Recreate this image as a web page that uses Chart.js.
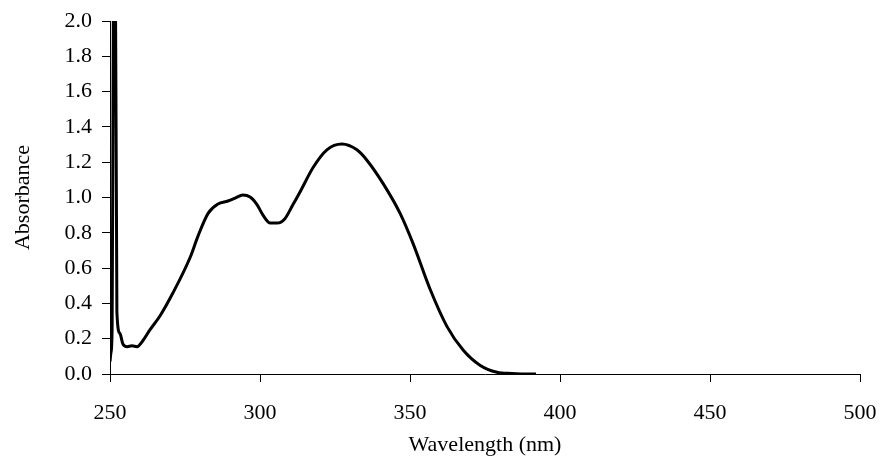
<!DOCTYPE html>
<html>
<head>
<meta charset="utf-8">
<script src="https://cdn.jsdelivr.net/npm/chart.js@4.4.0/dist/chart.umd.min.js"></script>
<style>
  html, body { margin: 0; padding: 0; background: #fff; }
  #wrap { width: 882px; height: 470px; }
</style>
</head>
<body>
<div id="wrap"><canvas id="spectrum"></canvas></div>
<script>
// absorbance spectrum
const wavelength = [250.0, 250.3, 250.7, 251.0, 251.3, 251.7, 252.3, 253.3, 254.3, 255.7,
    257.3, 259.0, 261.0, 263.3, 266.7, 271.0, 276.7, 279.3, 282.7, 286.0,
    289.3, 291.7, 294.3, 296.7, 299.0, 301.0, 303.3, 305.7, 308.3, 311.0,
    313.3, 317.7, 322.3, 327.3, 332.3, 335.7, 341.0, 346.7, 351.0, 356.7,
    362.3, 367.7, 373.3, 379.0, 384.0, 390.0, 392.0];
const absorbance = [0.07, 0.12, 0.25, 1.5, 2.6, 2.6, 0.35, 0.23, 0.17, 0.155,
    0.16, 0.155, 0.19, 0.25, 0.33, 0.46, 0.66, 0.78, 0.91, 0.963,
    0.98, 0.997, 1.014, 1.003, 0.96, 0.90, 0.856, 0.855, 0.88, 0.96,
    1.03, 1.17, 1.27, 1.303, 1.27, 1.21, 1.08, 0.91, 0.74, 0.48,
    0.27, 0.136, 0.05, 0.01, 0.003, 0.0, 0.0];
const xTicks = [250, 300, 350, 400, 450, 500];
const yTicks = [0, 0.2, 0.4, 0.6, 0.8, 1.0, 1.2, 1.4, 1.6, 1.8, 2.0];

const fontFam = "'Liberation Serif', 'Times New Roman', serif";
const points = wavelength.map((w, i) => ({ x: w, y: absorbance[i] }));

var ctx = document.getElementById('spectrum').getContext('2d');
var chart = new Chart(ctx, {
    type: 'line',
    data: {
        datasets: [{
            label: 'Absorbance',
            data: points,
            borderColor: '#000',
            borderWidth: 3,
            pointRadius: 0,
            cubicInterpolationMode: 'monotone',
            fill: false
        }]
    },
    options: {
        responsive: true,
        maintainAspectRatio: false,
        animation: false,
        layout: { padding: { left: 0, top: 21, right: 22, bottom: 0 } },
        plugins: { legend: { display: false }, tooltip: { enabled: false } },
        scales: {
            x: {
                type: 'linear',
                min: xTicks[0],
                max: xTicks[xTicks.length - 1],
                afterBuildTicks: (s) => { s.ticks = xTicks.map(v => ({ value: v })); },
                afterFit: (s) => { s.height = 96; s.paddingLeft = 0; s.paddingRight = 0; },
                grid: { drawOnChartArea: false, drawTicks: true, tickLength: 8, color: '#000' },
                border: { color: '#000', width: 1 },
                ticks: { color: '#000', padding: 18, maxRotation: 0, font: { family: fontFam, size: 22 } },
                title: {
                    display: true, text: 'Wavelength (nm)', color: '#000',
                    font: { family: fontFam, size: 22 }, padding: { top: 0, bottom: 12 }
                }
            },
            y: {
                min: yTicks[0],
                max: yTicks[yTicks.length - 1],
                afterBuildTicks: (s) => { s.ticks = yTicks.map(v => ({ value: v })); },
                afterFit: (s) => { s.width = 110; s.paddingTop = 0; s.paddingBottom = 0; },
                grid: { drawOnChartArea: false, drawTicks: true, tickLength: 8, color: '#000' },
                border: { color: '#000', width: 1 },
                ticks: {
                    color: '#000', padding: 10, font: { family: fontFam, size: 22 },
                    callback: (v) => Number(v).toFixed(1)
                },
                title: {
                    display: true, text: 'Absorbance', color: '#000',
                    font: { family: fontFam, size: 22 }, padding: { top: 10, bottom: 0 }
                }
            }
        }
    }
});
</script>
</body>
</html>
